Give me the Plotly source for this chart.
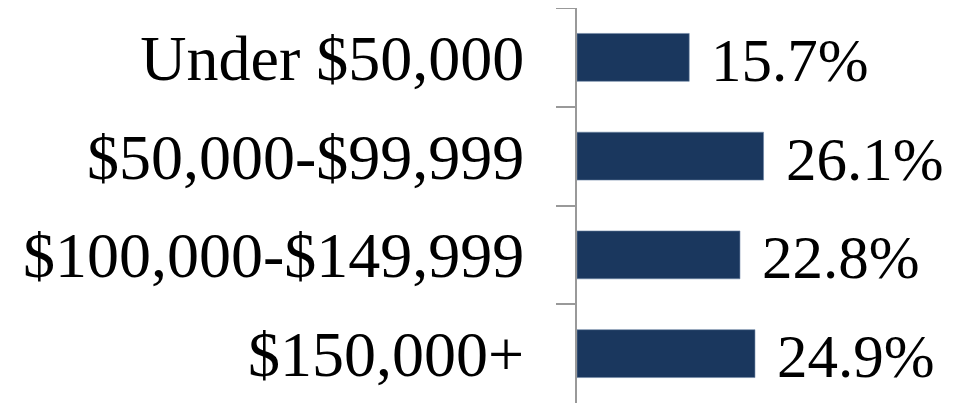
import plotly.graph_objects as go

categories = ["Under $50,000", "$50,000-$99,999", "$100,000-$149,999", "$150,000+"]
values = [15.7, 26.1, 22.8, 24.9]
labels = ["15.7%", "26.1%", "22.8%", "24.9%"]

FONT = "Liberation Serif, Times New Roman, serif"
BAR = "#1a375e"

fig = go.Figure(go.Bar(
    x=values, y=categories, orientation="h",
    marker=dict(color=BAR, line=dict(color="#6f86a6", width=0.6)),
    hoverinfo="skip",
))

for v, c, t in zip(values, categories, labels):
    fig.add_annotation(x=v, y=c, xref="x", yref="y", text=t, showarrow=False,
                       xanchor="left", yanchor="middle", xshift=20, yshift=-3,
                       font=dict(family=FONT, size=61, color="#000000"))

fig.update_layout(
    width=970, height=405,
    margin=dict(l=569, r=0, t=0, b=10, autoexpand=False),
    plot_bgcolor="white", paper_bgcolor="white",
    bargap=0.515, showlegend=False,
    font=dict(family=FONT, size=64, color="#000000"),
)
fig.update_xaxes(visible=False, range=[0, 56.1], fixedrange=True, automargin=False)
fig.update_yaxes(
    autorange="reversed", type="category", tickson="boundaries",
    ticks="outside", ticklen=19, tickwidth=2, tickcolor="#999999",
    showline=True, linecolor="#999999", linewidth=2,
    showgrid=False, zeroline=False, ticklabelstandoff=38, automargin=False,
    tickfont=dict(family=FONT, size=64, color="#000000"),
)

fig.write_html("out.html")
